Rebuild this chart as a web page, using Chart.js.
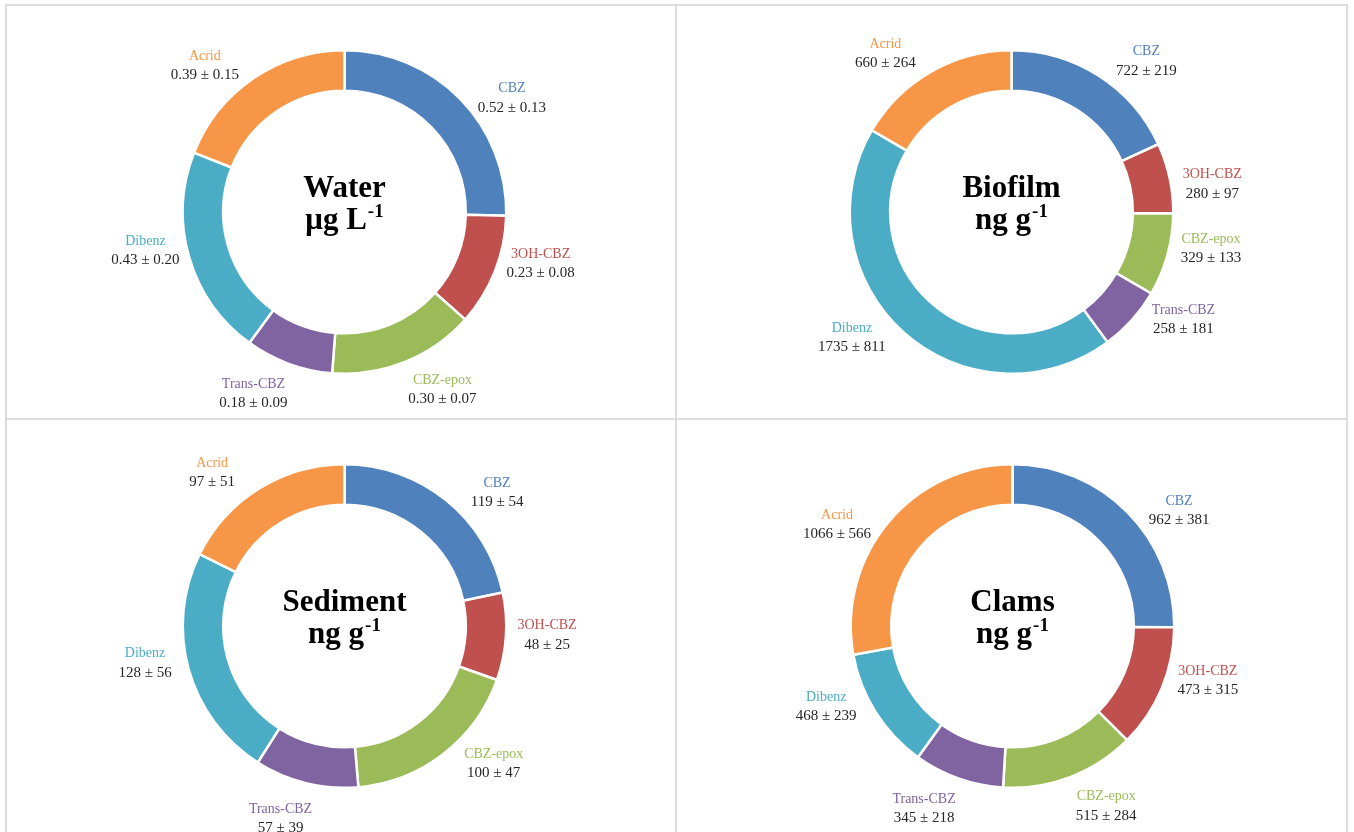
<!DOCTYPE html>
<html>
<head>
<meta charset="utf-8">
<script src="https://cdn.jsdelivr.net/npm/chart.js@4/dist/chart.umd.min.js"></script>
<style>
  body { margin: 0; background: #fff; }
  #grid {
    position: absolute; left: 5px; top: 4px;
    display: grid; grid-template-columns: 670px 671px; grid-template-rows: 414px 414px;
    border-left: 2px solid #dcdcdc; border-top: 2px solid #dcdcdc;
  }
  .cell { position: relative; border-right: 2px solid #dcdcdc; border-bottom: 2px solid #dcdcdc; }
  .cell canvas { position: absolute; left: 0; top: 0; }
</style>
</head>
<body>
<div id="grid">
  <div class="cell"><canvas id="water"></canvas></div>
  <div class="cell"><canvas id="biofilm"></canvas></div>
  <div class="cell"><canvas id="sediment"></canvas></div>
  <div class="cell"><canvas id="clams"></canvas></div>
</div>
<script>
// compounds, in drawing order (clockwise from the top)
const compounds = ['CBZ', '3OH-CBZ', 'CBZ-epox', 'Trans-CBZ', 'Dibenz', 'Acrid'];
const colors = ['#4F81BD', '#C0504D', '#9BBB59', '#8064A2', '#4BACC6', '#F79646'];

// mean ± sd per matrix
const waterMean = [0.52, 0.23, 0.30, 0.18, 0.43, 0.39];
const waterSd = [0.13, 0.08, 0.07, 0.09, 0.20, 0.15];
const biofilmMean = [722, 280, 329, 258, 1735, 660];
const biofilmSd = [219, 97, 133, 181, 811, 264];
const sedimentMean = [119, 48, 100, 57, 128, 97];
const sedimentSd = [54, 25, 47, 39, 56, 51];
const clamsMean = [962, 473, 515, 345, 468, 1066];
const clamsSd = [381, 315, 284, 218, 239, 566];

const serif = '"Liberation Serif", "DejaVu Serif", serif';

// labels outside the ring + title in the hole
const ringLabels = {
  id: 'ringLabels',
  afterDraw(chart, args, opts) {
    const ctx = chart.ctx;
    const meta = chart.getDatasetMeta(0);
    const sd = chart.data.datasets[0].sd;
    const vals = chart.data.datasets[0].data;
    ctx.save();
    ctx.textAlign = 'center';
    ctx.textBaseline = 'middle';
    meta.data.forEach((arc, i) => {
      const p = arc.getProps(['x', 'y', 'startAngle', 'endAngle', 'outerRadius'], true);
      let mid = (p.startAngle + p.endAngle) / 2 + Math.PI / 2; // from top, clockwise
      mid += (10 * Math.PI / 180) * Math.sin(2 * mid);
      const r = p.outerRadius + 41;
      const lx = p.x + r * Math.sin(mid);
      const ly = p.y - r * Math.cos(mid);
      ctx.fillStyle = colors[i];
      ctx.font = '14px ' + serif;
      ctx.fillText(chart.data.labels[i], lx, ly - 9);
      ctx.fillStyle = '#262626';
      ctx.font = '15px ' + serif;
      ctx.fillText(vals[i].toFixed(opts.decimals) + ' ± ' + sd[i].toFixed(opts.decimals), lx, ly + 10);
    });

    // title
    const cx = meta.data[0].x, cy = meta.data[0].y;
    ctx.fillStyle = '#000';
    ctx.textBaseline = 'alphabetic';
    ctx.font = 'bold 31px ' + serif;
    ctx.fillText(opts.title, cx, cy - 15);
    const base = opts.unit;
    const w1 = ctx.measureText(base).width;
    ctx.font = 'bold 19px ' + serif;
    const w2 = ctx.measureText('-1').width;
    const x0 = cx - (w1 + w2 + 1) / 2;
    ctx.textAlign = 'left';
    ctx.font = 'bold 31px ' + serif;
    ctx.fillText(base, x0, cy + 17);
    ctx.font = 'bold 19px ' + serif;
    ctx.fillText('-1', x0 + w1 + 1, cy + 5);
    ctx.restore();
  }
};

function makeDoughnut(id, mean, sd, title, unit, decimals, padL, padR) {
  const canvas = document.getElementById(id);
  canvas.width = 670;
  canvas.height = 414;
  new Chart(canvas, {
    type: 'doughnut',
    data: {
      labels: compounds,
      datasets: [{
        data: mean,
        sd: sd,
        backgroundColor: colors,
        borderColor: '#ffffff',
        borderWidth: 2.5
      }]
    },
    options: {
      responsive: false,
      animation: false,
      cutout: '75%',
      layout: { padding: { top: 43, bottom: 45, left: padL, right: padR } },
      plugins: {
        legend: { display: false },
        tooltip: { enabled: false },
        ringLabels: { title: title, unit: unit, decimals: decimals }
      }
    },
    plugins: [ringLabels]
  });
}

makeDoughnut('water', waterMean, waterSd, 'Water', 'μg L', 2, 171, 166);
makeDoughnut('biofilm', biofilmMean, biofilmSd, 'Biofilm', 'ng g', 0, 168, 169);
makeDoughnut('sediment', sedimentMean, sedimentSd, 'Sediment', 'ng g', 0, 171, 166);
makeDoughnut('clams', clamsMean, clamsSd, 'Clams', 'ng g', 0, 169, 168);
</script>
</body>
</html>
